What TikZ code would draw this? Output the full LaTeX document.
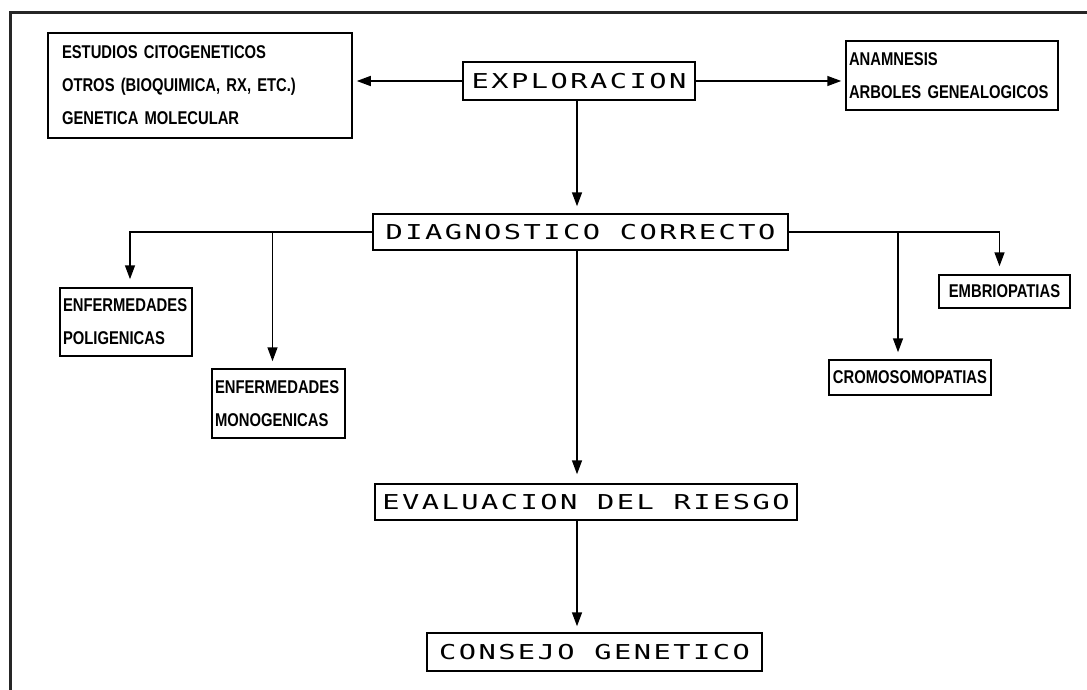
\documentclass[tikz,border=0pt]{standalone}
\usepackage{fontspec}
\usetikzlibrary{arrows.meta}
\newfontfamily\titlefont{DejaVu Sans Mono}[FakeStretch=1.4,LetterSpace=12]
\newfontfamily\boxfont{Liberation Sans}[FakeStretch=0.8]
\hyphenpenalty=10000
\exhyphenpenalty=10000
\begin{document}
\begin{tikzpicture}[x=1pt,y=-1pt]
\tikzset{
  titlebox/.style={draw, line width=1.5pt, inner sep=0pt,
    font=\titlefont\fontsize{20.5}{24}\selectfont},
  textbox/.style={draw, line width=1.5pt, inner ysep=0pt, align=left,
    font=\boxfont\bfseries\fontsize{18.5}{33}\selectfont},
  arr/.style={line width=1.5pt, -{Triangle[length=14pt,width=10pt]}},
  frameline/.style={line width=3pt, black!85}
}
\useasboundingbox (0,0) rectangle (1087,690);
\clip (0,0) rectangle (1087,690);
\draw[frameline] (10.5,700) -- (10.5,13) -- (1100,13);

% nodes
\node[textbox, minimum width=304, minimum height=105, text width=276, inner xsep=14] (est) at (200,85.5)
  {ESTUDIOS CITOGENETICOS\\OTROS (BIOQUIMICA, RX, ETC.)\\GENETICA MOLECULAR};
\node[titlebox, minimum width=232, minimum height=38] (expl) at (579,81) {EXPLORACION};
\node[textbox, minimum width=212, minimum height=69, text width=206, inner xsep=3] (anam) at (952,75.5)
  {ANAMNESIS\\ARBOLES GENEALOGICOS};
\node[titlebox, minimum width=415, minimum height=36] (diag) at (580.5,232) {DIAGNOSTICO CORRECTO};
\node[textbox, minimum width=132, minimum height=68, text width=126, inner xsep=3] (poli) at (126,322)
  {ENFERMEDADES\\POLIGENICAS};
\node[textbox, minimum width=133, minimum height=69, text width=127, inner xsep=3] (mono) at (278.5,403.5)
  {ENFERMEDADES\\MONOGENICAS};
\node[textbox, minimum width=131, minimum height=33, inner xsep=0] (embr) at (1004.5,291.5) {EMBRIOPATIAS};
\node[textbox, minimum width=162, minimum height=35, inner xsep=0] (crom) at (910,377.5) {CROMOSOMOPATIAS};
\node[titlebox, minimum width=422, minimum height=36] (eval) at (586,502) {EVALUACION DEL RIESGO};
\node[titlebox, minimum width=335, minimum height=38] (cons) at (594.5,652) {CONSEJO GENETICO};

% connectors
\coordinate (sp) at (577,0);
\draw[arr, shorten >=4pt] (expl.west) -- (expl.west -| est.east);
\draw[arr, shorten >=4pt] (expl.east) -- (expl.east -| anam.west);
\draw[arr, shorten >=7pt] (sp |- expl.south) -- (sp |- diag.north);
\draw[arr, shorten >=8pt] (diag.west) -| ([xshift=4pt]poli.north);
\coordinate (mt) at ([xshift=-6pt]mono.north);
\draw[arr, shorten >=7pt] (mt |- diag.west) -- (mt);
\draw[arr, shorten >=8pt] (diag.east) -| ([xshift=-5pt]embr.north);
\coordinate (ct) at ([xshift=-12pt]crom.north);
\draw[arr, shorten >=7pt] (ct |- diag.east) -- (ct);
\draw[arr, shorten >=9pt] (sp |- diag.south) -- (sp |- eval.north);
\draw[arr, shorten >=6pt] (sp |- eval.south) -- (sp |- cons.north);
\end{tikzpicture}
\end{document}
